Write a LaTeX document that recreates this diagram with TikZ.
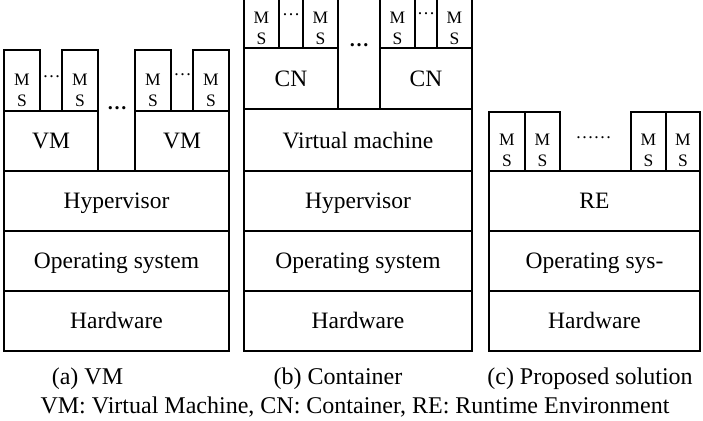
\documentclass[tikz,border=0pt]{standalone}
\usepackage{fontspec}
\setmainfont{Liberation Serif}
\begin{document}
\begin{tikzpicture}[x=1pt,y=-1pt,
  box/.style={draw, line width=1.9pt, rectangle, inner sep=0pt, outer sep=0pt, anchor=north west},
  layer/.style={box, minimum height=60pt, font=\fontsize{23.5}{28}\selectfont, text height=21pt, text depth=4.7pt},
  msbox/.style={box, minimum width=36pt},
  mstext/.style={font=\fontsize{17.5}{21}\selectfont, align=center, inner sep=0pt},
  sdots/.style={font=\fontsize{18}{20}\selectfont, inner sep=0pt},
  bdots/.style={font=\fontsize{20}{24}\selectfont\bfseries, inner sep=0pt},
  captext/.style={font=\fontsize{24}{28}\selectfont, inner sep=0pt, anchor=base}]
\useasboundingbox (0,0) rectangle (703,420);
\clip (0,0) rectangle (703,420);

% ---------- (a) VM ----------
\node[msbox, minimum height=60.7pt] (a1) at (4,50) {};
\node[msbox, minimum height=60.7pt] (a2) at (62,50) {};
\node[msbox, minimum height=60.7pt] (a3) at (135,50) {};
\node[msbox, minimum height=60.7pt] (a4) at (193,50) {};
\foreach \n in {a1,a2,a3,a4}{\node[mstext] (\n t) at ([yshift=-10pt]\n.center) {M\\S};}
\node[sdots] (ad1) at (51.5,76.7) {…};
\node[sdots] (ad2) at (182.5,75) {…};
\node[layer, minimum width=94pt] (avm1) at (4,110.7) {VM};
\node[layer, minimum width=94pt] (avm2) at (135,110.7) {VM};
\node[bdots] (adb) at (117,108) {…};
\node[layer, minimum width=225pt] (ahyp) at (4,170.7) {Hypervisor};
\node[layer, minimum width=225pt] (aos) at (4,230.7) {Operating system};
\node[layer, minimum width=225pt] (ahw) at (4,290.7) {Hardware};

% ---------- (b) Container ----------
\node[msbox, minimum width=35pt, minimum height=60.7pt] (b1) at (244,-12.4) {};
\node[msbox, minimum width=35pt, minimum height=60.7pt] (b2) at (303,-12.4) {};
\node[msbox, minimum width=35pt, minimum height=60.7pt] (b3) at (380,-12.4) {};
\node[msbox, minimum width=35pt, minimum height=60.7pt] (b4) at (437,-12.4) {};
\foreach \n in {b1,b2,b3,b4}{\node[mstext] (\n t) at ([yshift=-10.5pt]\n.center) {M\\S};}
\node[sdots] (bd1) at (291,15) {…};
\node[sdots] (bd2) at (426,14) {…};
\node[layer, minimum width=94pt, minimum height=60.7pt] (bcn1) at (244,48.3) {CN};
\node[layer, minimum width=92pt, minimum height=60.7pt] (bcn2) at (380,48.3) {CN};
\node[bdots] (bdb) at (359,45) {…};
\node[layer, minimum width=228pt, minimum height=61.7pt] (bvm) at (244,109) {Virtual machine};
\node[layer, minimum width=228pt] (bhyp) at (244,170.7) {Hypervisor};
\node[layer, minimum width=228pt] (bos) at (244,230.7) {Operating system};
\node[layer, minimum width=228pt] (bhw) at (244,290.7) {Hardware};

% ---------- (c) Proposed solution ----------
\node[msbox, minimum width=36pt, minimum height=59pt] (c1) at (489,111.7) {};
\node[msbox, minimum width=35pt, minimum height=59pt] (c2) at (525,111.7) {};
\node[msbox, minimum width=35pt, minimum height=59pt] (c3) at (631,111.7) {};
\node[msbox, minimum width=34pt, minimum height=59pt] (c4) at (666,111.7) {};
\foreach \n in {c1,c2,c3,c4}{\node[mstext] (\n t) at ([yshift=-9.5pt]\n.center) {M\\S};}
\node[sdots] (cd) at (593.5,138) {……};
\node[layer, minimum width=211pt] (cre) at (489,170.7) {RE};
\node[layer, minimum width=211pt] (cos) at (489,230.7) {Operating sys-};
\node[layer, minimum width=211pt] (chw) at (489,290.7) {Hardware};

% ---------- captions ----------
\node[captext] (capa) at (87.5,384) {(a) VM};
\node[captext] (capb) at (338,384) {(b) Container};
\node[captext] (capc) at (590,384) {(c) Proposed solution};
\node[captext] (foot) at (355,413) {VM: Virtual Machine, CN: Container, RE: Runtime Environment};
\end{tikzpicture}
\end{document}
